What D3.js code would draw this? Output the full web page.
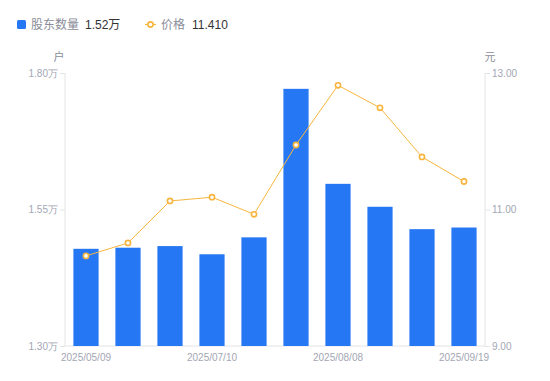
<!DOCTYPE html>
<html><head><meta charset="utf-8">
<script src="https://cdn.jsdelivr.net/npm/d3@7/dist/d3.min.js"></script>
<style>
html,body{margin:0;padding:0;background:#fff;}
svg{display:block;font-family:"Liberation Sans","Noto Sans CJK SC",sans-serif;}
</style></head>
<body><svg id="c" width="550" height="381"></svg>
<script>
const dates = ["2025/05/09","2025/05/30","2025/06/20","2025/07/10","2025/07/18","2025/07/31","2025/08/08","2025/08/20","2025/08/29","2025/09/19"];
const holders = [1.478,1.480,1.483,1.468,1.499,1.771,1.597,1.555,1.514,1.517];
const prices = [10.32,10.51,11.125,11.18,10.93,11.945,12.82,12.49,11.77,11.41];
const leftTicks = [1.30,1.55,1.80];
const rightTicks = [9,11,13];
const shownLabels = ["2025/05/09","2025/07/10","2025/08/08","2025/09/19"];

const svg = d3.select("#c");
const L=65, R=485, T=73, B=346;
const x = d3.scaleBand().domain(dates).range([L,R]).paddingInner(0.4).paddingOuter(0.2);
const yL = d3.scaleLinear().domain([1.30,1.80]).range([B,T]);
const yR = d3.scaleLinear().domain([9,13]).range([B,T]);
const axisCol="#e3e4e8", txtCol="#a3a6b4";

const gL = svg.append("g").attr("transform",`translate(${L},0)`)
  .call(d3.axisLeft(yL).tickValues(leftTicks).tickSize(5).tickPadding(2).tickFormat(d=>d.toFixed(2)+"万"));
const gR = svg.append("g").attr("transform",`translate(${R},0)`)
  .call(d3.axisRight(yR).tickValues(rightTicks).tickSize(5).tickPadding(2).tickFormat(d=>d.toFixed(2)));
const gB = svg.append("g").attr("transform",`translate(0,${B})`)
  .call(d3.axisBottom(x).tickValues(shownLabels).tickSize(0).tickPadding(8));
[gL,gR,gB].forEach(g=>{
  g.selectAll(".domain").attr("stroke",axisCol);
  g.selectAll(".tick line").attr("stroke",axisCol);
  g.selectAll("text").attr("fill",txtCol).attr("font-size",10);
});
gB.select(".domain").attr("d",`M${L},0H${R}`);
gL.select(".domain").attr("d",`M0,${B}V${T}`);
gR.select(".domain").attr("d",`M0,${B}V${T}`);

svg.append("text").attr("x",59).attr("y",61).attr("text-anchor","middle").attr("font-size",11).attr("fill","#8a8d99").text("户");
svg.append("text").attr("x",490).attr("y",61).attr("text-anchor","middle").attr("font-size",11).attr("fill","#8a8d99").text("元");

svg.append("g").selectAll("rect").data(holders).join("rect")
  .attr("x",(d,i)=>x(dates[i])).attr("width",x.bandwidth())
  .attr("y",d=>yL(d)).attr("height",d=>B-yL(d))
  .attr("fill","#2677f3");

const line = d3.line().x((d,i)=>x(dates[i])+x.bandwidth()/2).y(d=>yR(d));
svg.append("path").datum(prices).attr("d",line).attr("fill","none").attr("stroke","#f8b53e").attr("stroke-width",1);
svg.append("g").selectAll("circle").data(prices).join("circle")
  .attr("cx",(d,i)=>x(dates[i])+x.bandwidth()/2).attr("cy",d=>yR(d)).attr("r",2.6)
  .attr("fill","#fff").attr("stroke","#f8b53e").attr("stroke-width",1.6);

const lg = svg.append("g");
lg.append("rect").attr("x",17).attr("y",20).attr("width",9).attr("height",9).attr("rx",1.5).attr("fill","#2677f3");
lg.append("text").attr("x",31).attr("y",29).attr("font-size",12).attr("fill","#8a8d99").text("股东数量");
lg.append("text").attr("x",85).attr("y",29).attr("font-size",12).attr("fill","#333").text(holders[holders.length-1].toFixed(2)+"万");
lg.append("line").attr("x1",145).attr("x2",156).attr("y1",24.5).attr("y2",24.5).attr("stroke","#f8b53e").attr("stroke-width",1.2);
lg.append("circle").attr("cx",150.5).attr("cy",24.5).attr("r",2.6).attr("fill","#fff").attr("stroke","#f8b53e").attr("stroke-width",1.6);
lg.append("text").attr("x",161).attr("y",29).attr("font-size",12).attr("fill","#8a8d99").text("价格");
lg.append("text").attr("x",192).attr("y",29).attr("font-size",12).attr("fill","#333").text(prices[prices.length-1].toFixed(3));
</script></body></html>
